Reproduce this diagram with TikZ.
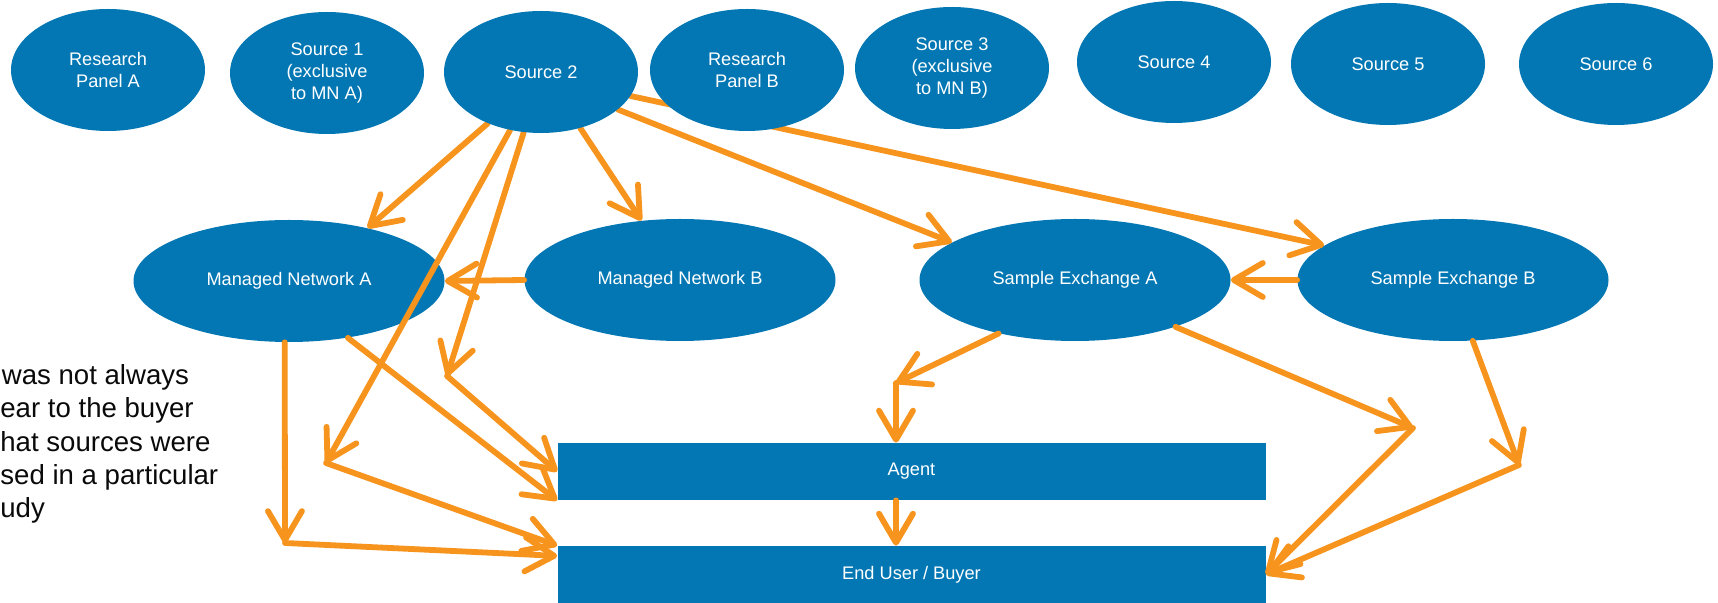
\documentclass[tikz,border=0pt]{standalone}
\usepackage{fontspec}
\setmainfont{Liberation Sans}
\usetikzlibrary{shapes.geometric,arrows.meta,calc}
\definecolor{netblue}{RGB}{3,119,179}
\definecolor{floworange}{RGB}{247,148,30}
\definecolor{notegray}{RGB}{10,10,10}
\pgfdeclarelayer{back}
\pgfsetlayers{back,main}
\begin{document}
\begin{tikzpicture}[x=0.5pt,y=-0.5pt,
  src/.style={ellipse, fill=netblue, text=white, inner sep=0pt,
    minimum width=97pt, minimum height=61pt, align=center,
    font=\fontsize{9.1}{10.8}\selectfont},
  hub/.style={src, minimum width=155.5pt},
  bar/.style={rectangle, fill=netblue, text=white, inner sep=0pt,
    minimum width=354pt, minimum height=28.5pt,
    font=\fontsize{9.1}{10.8}\selectfont},
  flow/.style={draw=floworange, line width=2.9pt, line cap=round, line join=round,
    -{Straight Barb[length=14.5pt,width=17pt,round]}},
  note/.style={anchor=base west, inner sep=0pt, text=notegray,
    font=\fontsize{13.8}{16.75}\selectfont}]
\useasboundingbox (0,0) rectangle (1718,603);
\begin{pgfonlayer}{back}
  \fill[white] (0,0) rectangle (1718,603);
\end{pgfonlayer}

% sources (drawn above the connectors)
\node[src] (rpa) at (108,70) {Research\\Panel A};
\node[src] (s1)  at (327,73) {Source 1\\(exclusive\\to MN A)};
\node[src] (s2)  at (541,72) {Source 2};
\node[src] (rpb) at (747,70) {Research\\Panel B};
\node[src] (s3)  at (952,68) {Source 3\\(exclusive\\to MN B)};
\node[src] (s4)  at (1174,62) {Source 4};
\node[src] (s5)  at (1388,64) {Source 5};
\node[src] (s6)  at (1616,64) {Source 6};

\begin{pgfonlayer}{back}
  % networks and exchanges
  \node[hub] (mna) at (289,281) {Managed Network A};
  \node[hub] (mnb) at (680,280) {Managed Network B};
  \node[hub] (sea) at (1075,280) {Sample Exchange A};
  \node[hub] (seb) at (1453,280) {Sample Exchange B};

  % buyers
  \node[bar] (agent) at (911.5,471.5) {Agent};
  \node[bar] (eu)    at (911.5,574.5) {End User / Buyer};

  % bends of the flows
  \coordinate (c2)  at (326,463);
  \coordinate (c3)  at (447,376);
  \coordinate (c6)  at (285,543);
  \coordinate (c11) at (896,383);
  \coordinate (c12) at (1413,428);
  \coordinate (c13) at (1519,465);

  % flows out of Source 2
  \draw[flow] (s2.-136) -- (mna.34);
  \draw[flow] (s2.-118) -- (c2);
  \draw[flow] (c2) -- (eu.north west);
  \draw[flow] (s2.-106) -- (c3);
  \draw[flow] (c3) -- (agent.west);
  \draw[flow] (s2.-55) -- (mnb.123);
  \draw[flow] (s2.-26) -- (sea.163);
  \draw[flow] (s2.-15) -- (seb.165);

  % flows out of the managed networks
  \draw[flow] (mnb.west) -- (mna.east);
  \draw[flow] (mna.-94) -- (c6);
  \draw[flow] (c6) -- (eu.177);
  \draw[flow] (mna.-44) -- (agent.south west);

  % flows out of the exchanges
  \draw[flow] (seb.west) -- (sea.east);
  \draw[flow] (sea.-145) -- (c11);
  \draw[flow] (c11) -- (c11 |- agent.north);
  \draw[flow] (sea.-25) -- (c12);
  \draw[flow] (c12) -- (eu.east);
  \draw[flow] (seb.-72) -- (c13);
  \draw[flow] (c13) -- (eu.east);

  % agent to buyer
  \draw[flow] (c11 |- agent.south) -- (c11 |- eu.north);
\end{pgfonlayer}

% side note
\node[note] (n1) at (1.5,385) {was not always};
\node[note] (n2) at (0,418) {ear to the buyer};
\node[note] (n3) at (0,452) {hat sources were};
\node[note] (n4) at (0,485) {sed in a particular};
\node[note] (n5) at (0,518) {udy};
\end{tikzpicture}
\end{document}
